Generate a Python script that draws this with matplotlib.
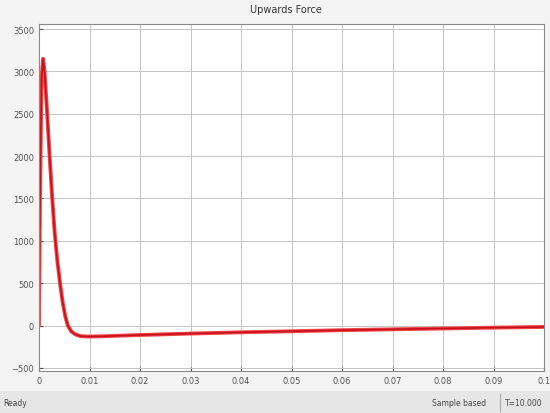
import matplotlib.pyplot as plt

# simulation time (s) and upwards force
t = [0.0, 0.0002, 0.0005, 0.0008, 0.0011, 0.0016, 0.0021, 0.0026, 0.0031,
     0.0036, 0.0042, 0.0047, 0.0052, 0.0057, 0.0064, 0.0072, 0.0082, 0.0095, 0.012,
     0.02, 0.03, 0.04, 0.05, 0.06, 0.07, 0.08, 0.09, 0.1]
force = [0, 1500, 2900, 3150, 3000, 2520, 2000, 1520, 1100,
         780, 480, 270, 110, 0, -70, -105, -125, -130, -128,
         -112, -95, -80, -68, -55, -45, -35, -25, -17]

xticks = [0, 0.01, 0.02, 0.03, 0.04, 0.05, 0.06, 0.07, 0.08, 0.09, 0.1]
xlabels = ['0', '0.01', '0.02', '0.03', '0.04', '0.05', '0.06', '0.07', '0.08', '0.09', '0.1']
yticks = [-500, 0, 500, 1000, 1500, 2000, 2500, 3000, 3500]

fig = plt.figure(figsize=(5.5, 4.14), dpi=100)
fig.patch.set_facecolor('#f4f4f4')

ax = fig.add_axes([39 / 550, 42 / 414, 505 / 550, 347 / 414])
ax.set_facecolor('white')
ax.plot(t, force, color='#f04848', lw=2.8, solid_capstyle='round')
ax.plot(t, force, color='#c8101c', lw=1.2)

ax.set_xlim(0, 0.1)
ax.set_ylim(-537, 3560)
ax.set_xticks(xticks)
ax.set_xticklabels(xlabels)
ax.set_yticks(yticks)
ax.grid(True, color='#c4c4c4', lw=0.7)
ax.tick_params(direction='in', labelsize=6, colors='#555555', length=3)
for s in ax.spines.values():
    s.set_color('#888888')
    s.set_linewidth(0.8)

fig.text(0.52, 0.975, 'Upwards Force', ha='center', va='center', fontsize=7, color='#333333')

# status bar
fig.add_artist(plt.Rectangle((0, 0), 1, 22 / 414, transform=fig.transFigure,
                             facecolor='#e6e6e6', edgecolor='none'))
fig.text(3 / 550, 10 / 414, 'Ready', fontsize=5.5, color='#444444', va='center')
fig.text(432 / 550, 10 / 414, 'Sample based', fontsize=5.5, color='#444444', va='center')
fig.text(505 / 550, 10 / 414, 'T=10.000', fontsize=5.5, color='#444444', va='center')
fig.add_artist(plt.Line2D([500 / 550, 500 / 550], [2 / 414, 19 / 414],
                          transform=fig.transFigure, color='#aaaaaa', lw=0.8))

fig.savefig('out.png', dpi=100, facecolor=fig.get_facecolor())
